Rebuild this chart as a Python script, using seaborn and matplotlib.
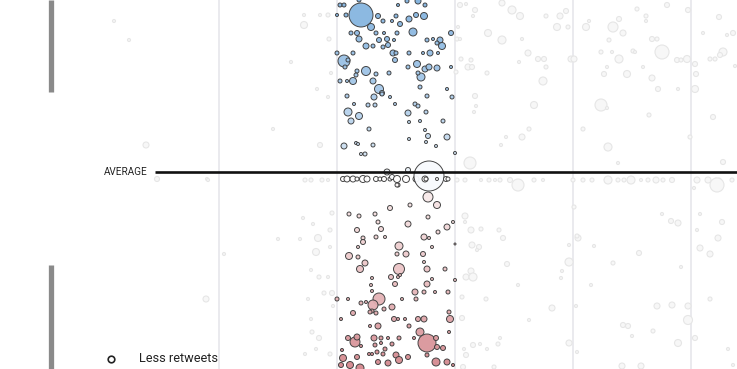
import numpy as np
import pandas as pd
import matplotlib
matplotlib.use("Agg")
import matplotlib.pyplot as plt
import seaborn as sns
from matplotlib.colors import LinearSegmentedColormap, TwoSlopeNorm

sns.set_theme(style="white")
plt.rcParams["font.family"] = ["Roboto", "DejaVu Sans"]

# highlighted week: (position, retweet score, bubble radius)
highlight = [
    # above average
    (340, 5, 2), (344, 5, 2), (361, 15, 12), (346, 15, 2), (337, 15, 1.5), (378, 16, 2.5),
    (383, 21, 2), (371, 27, 3.5), (392, 21, 1.5), (400, 24, 2.5), (396, 16, 2), (409, 19, 3),
    (416, 15, 2.5), (424, 16, 3.5), (418, 1, 3), (425, 5, 2), (398, 5, 1.5), (407, 1, 2),
    (359, 0, 2), (413, 32, 4), (351, 33, 2), (357, 33, 2.5), (376, 33, 2), (384, 33, 1.5),
    (397, 33, 2), (359, 39, 3), (379, 40, 2.5), (387, 39, 2.5), (394, 40, 1.5), (366, 46, 3),
    (373, 46, 2), (383, 47, 2), (388, 45, 2.5), (427, 40, 2), (433, 39, 1.5), (440, 40, 3),
    (442, 46, 3.5), (437, 43, 2), (451, 33, 2.5), (337, 53, 2), (353, 53, 2), (344, 61, 6),
    (345, 67, 2), (348, 60, 2), (393, 53, 3), (396, 53, 2), (409, 53, 2), (423, 53, 1.5),
    (430, 53, 3), (438, 53, 1.5), (395, 60, 2.5), (417, 64, 3.5), (408, 67, 2), (425, 69, 3),
    (429, 67, 3), (437, 68, 3), (421, 77, 4), (418, 73, 2), (366, 71, 4.5), (357, 71, 2),
    (356, 75, 2), (376, 74, 2), (389, 73, 2), (340, 81, 2), (347, 81, 1.5), (353, 81, 3.5),
    (373, 81, 3), (379, 89, 4.5), (382, 93, 2.5), (420, 87, 2), (447, 89, 1.5), (451, 67, 1.5),
    (347, 96, 2), (374, 97, 3), (382, 94, 2), (390, 97, 1.5), (427, 96, 2), (452, 97, 2),
    (354, 104, 1.5), (368, 105, 2), (375, 105, 2), (395, 104, 1.5), (415, 104, 2), (418, 106, 2),
    (348, 112, 4), (359, 116, 3.5), (351, 121, 3), (408, 113, 3), (426, 112, 2), (409, 122, 1.5),
    (420, 121, 1.5), (443, 121, 2), (369, 129, 2), (425, 130, 1.5), (428, 136, 2.5), (447, 137, 3),
    (409, 139, 1.5), (426, 142, 1.5), (436, 146, 1.5), (344, 146, 3), (356, 143, 1.5),
    (358, 144, 1.5), (373, 145, 2), (361, 154, 1.5), (365, 154, 2), (455, 153, 1.5),
    # around the average
    (343, 179, 2.5), (347, 179, 3), (353, 179, 3), (357, 179, 2), (363, 179, 3.5), (367, 179, 3),
    (376, 179, 2.5), (380, 179, 2), (384, 179, 2.5), (387, 172, 3), (390, 179, 2), (392, 177, 2.5),
    (397, 179, 3.5), (398, 185, 2), (406, 179, 3.5), (408, 170, 2.5), (416, 179, 3), (429, 176, 15),
    (425, 179, 3), (426, 179, 2), (437, 179, 1.5), (446, 179, 2.5), (448, 179, 2), (428, 197, 5),
    (437, 205, 3.5),
    # below average
    (397, 185, 2), (390, 208, 2.5), (410, 205, 2), (349, 214, 2), (359, 216, 2), (375, 214, 2),
    (378, 222, 2), (408, 224, 3), (428, 217, 2), (447, 227, 3), (453, 222, 1.5), (357, 230, 2.5),
    (381, 229, 2.5), (438, 232, 2), (363, 238, 2), (363, 242, 2.5), (376, 237, 2), (385, 237, 1.5),
    (424, 237, 3), (429, 238, 1.5), (358, 247, 1.5), (399, 246, 4), (432, 247, 1.5), (455, 244, 1),
    (349, 256, 3.5), (358, 257, 2), (397, 254, 2), (406, 254, 3), (423, 254, 2.5), (365, 263, 3),
    (360, 269, 3.5), (399, 269, 5.5), (424, 262, 1.5), (427, 269, 3), (445, 269, 2), (372, 278, 1.5),
    (391, 277, 2.5), (398, 277, 1.5), (395, 284, 2.5), (400, 275, 1.5), (427, 284, 3), (432, 279, 1.5),
    (455, 280, 1.5), (371, 285, 1.5), (372, 291, 1.5), (379, 299, 6), (373, 305, 5), (372, 311, 2),
    (366, 302, 1.5), (415, 292, 3), (424, 292, 2), (435, 292, 1.5), (448, 292, 2), (402, 299, 1.5),
    (416, 299, 2), (337, 299, 2), (348, 299, 1.5), (361, 303, 2), (392, 307, 3), (384, 309, 2),
    (370, 312, 2), (376, 313, 2), (353, 313, 2.5), (394, 319, 2.5), (424, 319, 3), (418, 319, 2.5),
    (398, 319, 1.5), (405, 319, 1.5), (450, 319, 3.5), (449, 312, 2), (341, 319, 1.5), (378, 326, 3),
    (370, 326, 1.5), (409, 326, 2), (420, 332, 4), (427, 343, 9), (436, 338, 2.5), (443, 348, 2.5),
    (437, 347, 2.5), (449, 332, 1.5), (355, 342, 5), (348, 338, 2.5), (357, 337, 3), (361, 346, 1.5),
    (374, 338, 3), (381, 338, 2), (375, 345, 2), (388, 338, 1.5), (399, 338, 2), (414, 338, 1.5),
    (381, 343, 1.5), (385, 349, 2), (392, 344, 2), (396, 355, 3), (399, 360, 3.5), (408, 357, 2.5),
    (427, 355, 2), (342, 350, 1.5), (343, 358, 3.5), (357, 357, 2.5), (369, 354, 1.5), (372, 354, 1.5),
    (377, 352, 2), (383, 354, 2), (378, 362, 2.5), (388, 363, 3), (350, 365, 3.5), (360, 368, 4),
    (341, 365, 2.5), (436, 362, 4), (447, 362, 3), (453, 365, 1.5),
]

# other weeks, drawn faded
faded = [
    (114, 21, 1.5), (129, 40, 1.5), (146, 145, 3), (157, 179, 2.5), (207, 179, 1.5), (208, 180, 1.5),
    (206, 299, 3), (224, 254, 1.5), (273, 129, 1.5), (291, 62, 1.5), (304, 15, 1.5), (320, 15, 1.5),
    (328, 15, 2), (304, 25, 3.5), (329, 39, 2), (331, 73, 1.5), (317, 89, 1.5), (328, 97, 1.5),
    (320, 145, 2.5), (305, 180, 2), (311, 180, 2), (322, 180, 2), (328, 180, 1.5), (332, 213, 2),
    (303, 218, 1.5), (313, 224, 1.5), (330, 230, 2), (318, 238, 3.5), (278, 239, 1.5), (300, 239, 1.5),
    (330, 247, 1.5), (316, 252, 3.5), (311, 270, 1.5), (319, 277, 2), (328, 277, 1.5), (324, 293, 2),
    (332, 293, 2.5), (308, 299, 1.5), (333, 306, 1.5), (311, 319, 1.5), (312, 332, 2), (319, 338, 2.5),
    (316, 349, 1.5), (305, 354, 1.5), (330, 354, 2),
    (460, 5, 2.5), (466, 4, 1.5), (475, 10, 2.5), (473, 16, 1.5), (502, 3, 3), (512, 10, 4),
    (520, 16, 3.5), (546, 16, 2), (560, 16, 3), (566, 11, 2.5), (557, 27, 3.5), (568, 27, 2),
    (488, 33, 3.5), (458, 27, 1.5), (457, 39, 2), (460, 39, 1.5), (502, 40, 4), (522, 39, 1.5),
    (528, 53, 3), (538, 59, 2.5), (544, 59, 2.5), (519, 62, 1.5), (571, 59, 3), (574, 59, 3),
    (471, 60, 2), (461, 59, 2), (468, 67, 3), (472, 67, 2.5), (456, 72, 2), (487, 73, 2),
    (546, 67, 2), (543, 81, 4), (475, 96, 2.5), (476, 106, 1.5), (474, 112, 1.5), (534, 105, 3.5),
    (529, 129, 2), (522, 137, 3), (506, 137, 1.5), (501, 145, 1.5), (470, 163, 6),
    (586, 27, 3.5), (613, 27, 5), (623, 33, 3), (619, 19, 2.5), (589, 21, 1.5), (637, 9, 2),
    (646, 16, 2), (646, 21, 1.5), (667, 5, 2.5), (688, 10, 2.5), (609, 40, 2), (652, 39, 2.5),
    (657, 39, 2), (662, 52, 7), (633, 51, 2), (635, 52, 1.5), (601, 52, 2), (612, 52, 1.5),
    (619, 59, 4), (677, 60, 2.5), (681, 60, 2), (687, 59, 3.5), (607, 67, 1.5), (643, 67, 1.5),
    (604, 74, 2.5), (627, 74, 3.5), (652, 78, 3), (658, 89, 2.5), (678, 89, 1.5), (601, 105, 6),
    (607, 108, 1.5), (649, 115, 2), (583, 129, 2), (608, 147, 4), (618, 163, 1.5), (690, 137, 2),
    (719, 17, 2.5), (733, 33, 2.5), (727, 35, 1.5), (703, 33, 1.5), (723, 52, 4), (720, 55, 2.5),
    (710, 59, 2), (715, 59, 2), (695, 64, 2.5), (696, 74, 2.5), (695, 89, 3.5), (713, 117, 2.5),
    (723, 162, 2.5), (735, 66, 1.5),
    (457, 180, 2), (465, 180, 2), (481, 180, 1.5), (489, 180, 2), (495, 180, 1.5), (500, 180, 2),
    (510, 180, 2.5), (518, 185, 6), (534, 180, 2), (543, 180, 1.5), (573, 180, 2), (583, 180, 2),
    (592, 180, 2), (608, 180, 4), (618, 180, 2), (624, 180, 2), (631, 180, 4), (641, 180, 1.5),
    (648, 180, 2), (656, 180, 3), (663, 180, 2), (672, 180, 2.5), (697, 180, 3), (708, 180, 3),
    (716, 180, 2), (719, 180, 2), (717, 185, 7), (732, 180, 2),
    (465, 216, 3), (465, 222, 1.5), (471, 230, 3), (481, 229, 2), (499, 230, 2), (503, 238, 2.5),
    (472, 245, 3), (479, 247, 2.5), (477, 250, 1.5), (507, 264, 2.5), (471, 271, 3), (466, 277, 3),
    (473, 277, 4), (518, 285, 1.5), (462, 297, 2), (486, 299, 2), (552, 308, 3), (462, 318, 2.5),
    (529, 320, 1.5), (500, 338, 1.5), (498, 344, 2), (473, 345, 2.5), (480, 344, 1.5), (464, 349, 1.5),
    (487, 349, 1.5), (466, 355, 2.5), (463, 367, 2.5), (494, 367, 2), (569, 245, 1.5), (569, 262, 4),
    (562, 271, 1.5), (561, 278, 1.5), (569, 343, 3), (577, 352, 1.5), (574, 207, 2), (578, 238, 3),
    (577, 236, 2), (594, 246, 1.5), (576, 306, 1.5), (591, 285, 1.5), (613, 263, 2), (639, 253, 2.5),
    (662, 214, 1.5), (671, 221, 2.5), (678, 223, 3), (681, 267, 1.5), (657, 306, 3), (672, 305, 3),
    (688, 306, 3), (688, 320, 4.5), (653, 331, 2), (623, 325, 2.5), (628, 326, 2.5), (632, 336, 1.5),
    (678, 343, 3.5), (622, 366, 3), (641, 366, 3), (695, 338, 2.5), (694, 188, 1.5), (700, 214, 1.5),
    (722, 222, 2.5), (697, 230, 1.5), (718, 238, 3), (700, 248, 3), (710, 254, 3), (710, 299, 2),
    (728, 349, 1.5), (733, 365, 1.5),
]

average = 172
week_edges = [219, 337, 455, 573, 691]
side_bars = [(0, 92), (265, 369)]
legend_label = "Less retweets"

hl = pd.DataFrame(highlight, columns=["pos", "score", "radius"])
fd = pd.DataFrame(faded, columns=["pos", "score", "radius"])

dpi = 100
fig = plt.figure(figsize=(7.37, 3.69), dpi=dpi)
ax = fig.add_axes([0, 0, 1, 1])
ax.set_xlim(0, 737)
ax.set_ylim(369, 0)
ax.axis("off")


def area(r):
    # radius in pixels -> marker area in points^2
    return (2 * np.asarray(r) * 72 / dpi) ** 2


for xe in week_edges:
    ax.axvline(xe, color="#e4e4ea", lw=1.1, zorder=0)

sns.scatterplot(data=fd, x="pos", y="score", s=area(fd["radius"]), color="#f7f7f7",
                edgecolor="#e6e6e6", linewidth=0.8, ax=ax, legend=False, zorder=1)

cmap = LinearSegmentedColormap.from_list(
    "retweets",
    [(0.0, "#80b1de"), (0.25, "#a6c8e8"), (0.44, "#d3e3f2"), (0.5, "#ffffff"),
     (0.56, "#f6e4e4"), (0.75, "#eac2c4"), (1.0, "#d3868c")])
norm = TwoSlopeNorm(vmin=0, vcenter=179, vmax=369)
sns.scatterplot(data=hl, x="pos", y="score", hue="score", palette=cmap, hue_norm=norm,
                s=area(hl["radius"]), edgecolor="#3c3c3c", linewidth=0.7, alpha=0.95,
                ax=ax, legend=False, zorder=3)

ax.plot([155, 737], [average, average], color="#111111", lw=1.9, zorder=4,
        solid_capstyle="butt")
ax.text(148, average, "AVERAGE", ha="right", va="center", fontsize=7.2, color="#222222")

for y0, y1 in side_bars:
    ax.plot([51.5, 51.5], [y0, y1], color="#8a8a8a", lw=3.8, solid_capstyle="butt", zorder=2)

ax.scatter([111], [359], s=area(3.3), facecolor="white", edgecolor="#222222", linewidth=1.2,
           zorder=5)
ax.text(139, 359, legend_label, ha="left", va="center", fontsize=9.2, color="#222222")

fig.savefig("out.png", dpi=dpi)
